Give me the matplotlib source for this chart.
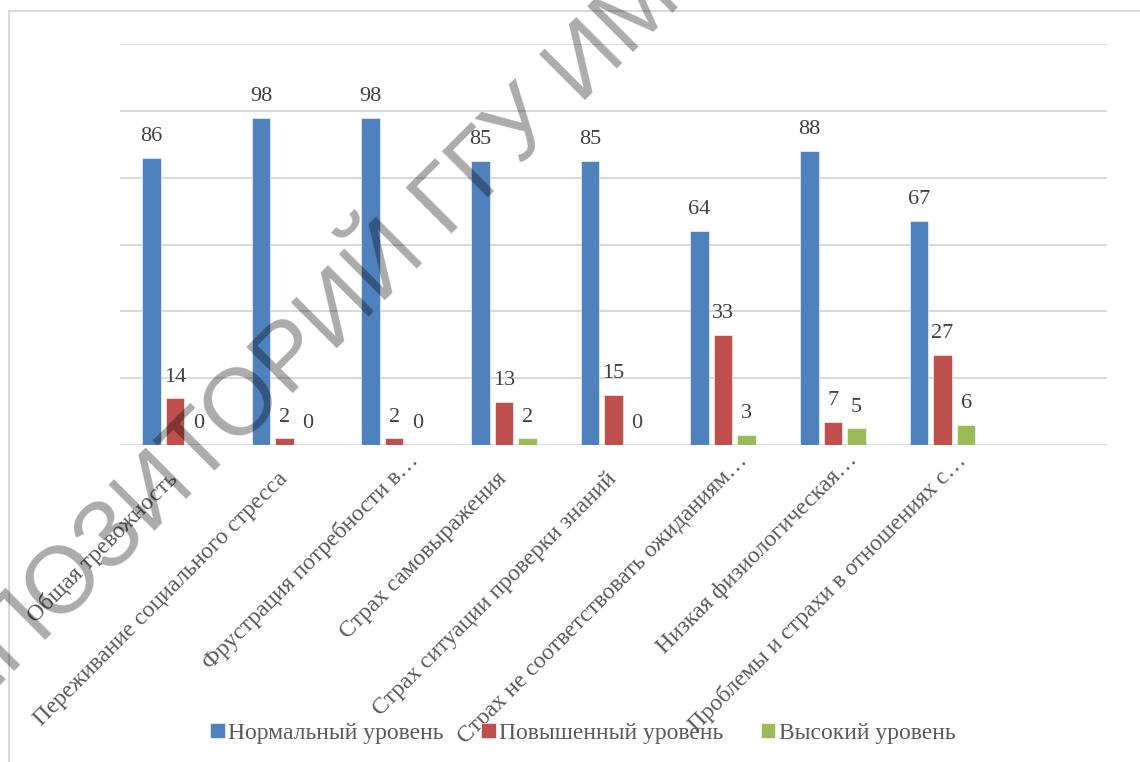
import matplotlib
matplotlib.use("Agg")
import matplotlib.pyplot as plt
import numpy as np
from matplotlib.patches import Rectangle

categories = [
    "Общая тревожность",
    "Переживание социального стресса",
    "Фрустрация потребности в…",
    "Страх самовыражения",
    "Страх ситуации проверки знаний",
    "Страх не соответствовать ожиданиям…",
    "Низкая физиологическая…",
    "Проблемы и страхи в отношениях с…",
    "",
]
series_names = ["Нормальный уровень", "Повышенный уровень", "Высокий уровень"]
normal = [86, 98, 98, 85, 85, 64, 88, 67]
elevated = [14, 2, 2, 13, 15, 33, 7, 27]
high = [0, 0, 0, 2, 0, 3, 5, 6]
colors = ["#4f81bd", "#c0504d", "#9bbb59"]
watermark = "РЕПОЗИТОРИЙ ГГУ ИМЕНИ Ф. СКОРИНЫ"

serif = ["Liberation Serif", "DejaVu Serif"]

fig = plt.figure(figsize=(11.4, 7.62), dpi=100)
ax = fig.add_axes([120 / 1140, 1 - 445 / 762, (1107 - 120) / 1140, (445 - 44) / 762])

x = np.arange(len(normal))
width = 0.17
step = 0.215
for i, (vals, col, name) in enumerate(zip([normal, elevated, high], colors, series_names)):
    pos = x + (i - 1) * step
    ax.bar(pos, vals, width, color=col, label=name, zorder=3,
           edgecolor="white", linewidth=0.4)
    for p, v in zip(pos, vals):
        ax.annotate(str(v), (p, v), xytext=(0, 12), textcoords="offset points",
                    ha="center", va="baseline", fontsize=16, color="#404040",
                    family=serif, zorder=4)

ax.set_xlim(-0.5, len(categories) - 0.5)
ax.set_ylim(0, 120)
ax.set_yticks(np.arange(0, 121, 20))
ax.yaxis.grid(True, color="#d9d9d9", linewidth=1.5, zorder=0)
ax.set_axisbelow(True)
ax.tick_params(axis="y", left=False, labelleft=False)
for s in ax.spines.values():
    s.set_visible(False)

ax.set_xticks(np.arange(len(categories)))
ax.set_xticklabels([])
ax.tick_params(axis="x", length=0)
for i, lab in enumerate(categories):
    if lab.endswith("…"):
        off = (15, -9)
    else:
        off = (0, -22)
    ax.annotate(lab, xy=(i, 0), xycoords=("data", "axes fraction"),
                xytext=off, textcoords="offset points",
                rotation=45, rotation_mode="anchor", ha="right", va="center",
                fontsize=17, color="#595959", family=serif, annotation_clip=False)

leg = fig.legend(loc="center", bbox_to_anchor=(583 / 1140, 1 - 733 / 762), ncol=3,
                 frameon=False, handlelength=0.6, handleheight=0.6,
                 handletextpad=0.15, columnspacing=1.6,
                 prop={"family": serif, "size": 17})
for t in leg.get_texts():
    t.set_color("#595959")

# outer chart frame
fig.patches.append(Rectangle((8.5 / 1140, 1 - 790 / 762), 2, (790 - 11) / 762,
                             transform=fig.transFigure, fill=False,
                             edgecolor="#d9d9d9", linewidth=1.5, zorder=0))

# watermark
fig.text(-80 / 1140, 1 - 765 / 762, watermark, rotation=45, rotation_mode="anchor",
         ha="left", va="baseline", fontsize=68, color="black", alpha=0.33,
         family=["Liberation Sans", "DejaVu Sans"], zorder=10)

fig.savefig("out.png", dpi=100, facecolor="white")
